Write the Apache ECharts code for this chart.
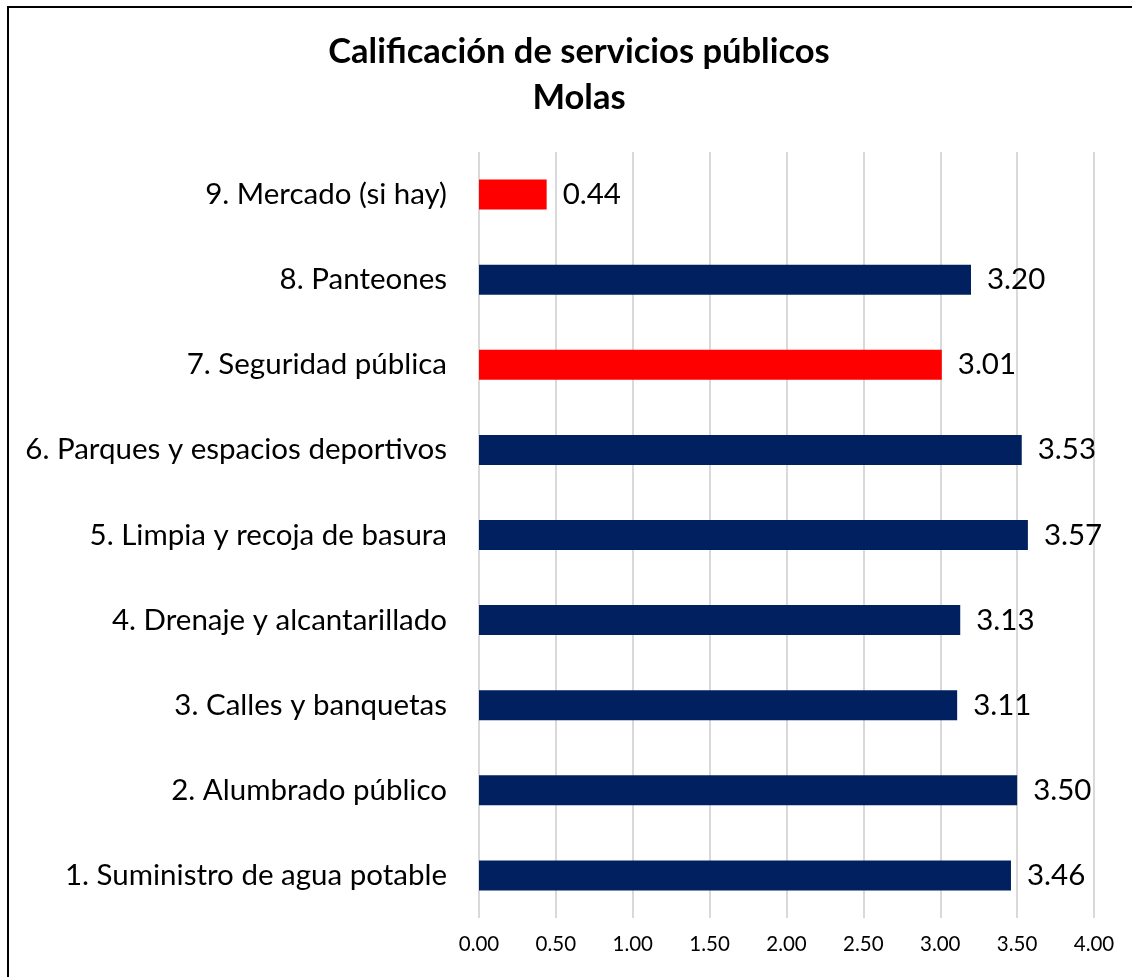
<!DOCTYPE html>
<html>
<head>
<meta charset="utf-8">
<script src="https://cdn.jsdelivr.net/npm/echarts@6/dist/echarts.min.js"></script>
<style>
    html, body { margin: 0; padding: 0; background: #fff; }
    #chart { width: 1132px; height: 977px; position: relative; }
    .frame { position: absolute; left: 7px; top: 6px; right: -10px; bottom: -10px;
             border-top: 2px solid #000; border-left: 2px solid #000; pointer-events: none; }
</style>
</head>
<body>
<div id="chart"></div>
<div class="frame"></div>
<script>
    // datos del grafico (de abajo hacia arriba)
    var categorias = [
        '1. Suministro de agua potable',
        '2. Alumbrado público',
        '3. Calles y banquetas',
        '4. Drenaje y alcantarillado',
        '5. Limpia y recoja de basura',
        '6. Parques y espacios deportivos',
        '7. Seguridad pública',
        '8. Panteones',
        '9. Mercado (si hay)'
    ];
    var calificaciones = [3.46, 3.50, 3.11, 3.13, 3.57, 3.53, 3.01, 3.20, 0.44];
    var resaltados = [false, false, false, false, false, false, true, false, true]; // barras en rojo
    var ticksX = [0, 0.5, 1, 1.5, 2, 2.5, 3, 3.5, 4];

    var fuente = 'Lato, "Open Sans", sans-serif';
    var myChart = echarts.init(document.getElementById('chart'));
    var option = {
        animation: false,
        title: {
            text: 'Calificación de servicios públicos\nMolas',
            left: 574,
            top: 24,
            textAlign: 'center',
            textStyle: {
                fontFamily: fuente,
                fontSize: 34.5,
                fontWeight: 'bold',
                color: '#000',
                lineHeight: 46
            }
        },
        grid: {
            left: 479,
            right: 38,
            top: 152,
            bottom: 59,
            containLabel: false
        },
        xAxis: {
            type: 'value',
            min: ticksX[0],
            max: ticksX[ticksX.length - 1],
            interval: 0.5,
            axisLine: {show: false},
            axisTick: {show: false},
            axisLabel: {
                margin: 16,
                fontFamily: fuente,
                fontSize: 20.5,
                color: '#000',
                formatter: function (v) { return v.toFixed(2); }
            },
            splitLine: {
                show: true,
                lineStyle: {color: '#d9d9d9', width: 2}
            }
        },
        yAxis: {
            type: 'category',
            data: categorias,
            axisLine: {show: false},
            axisTick: {show: false},
            axisLabel: {
                margin: 32,
                fontFamily: fuente,
                fontSize: 29.5,
                color: '#000'
            }
        },
        series: [{
            type: 'bar',
            barWidth: 30,
            data: calificaciones.map(function (v, i) {
                return {
                    value: v,
                    itemStyle: {color: resaltados[i] ? '#ff0000' : '#002060'}
                };
            }),
            label: {
                show: true,
                position: 'right',
                distance: 16,
                fontFamily: fuente,
                fontSize: 29.5,
                color: '#000',
                formatter: function (p) { return p.value.toFixed(2); }
            }
        }]
    };
    myChart.setOption(option);
</script>
</body>
</html>
